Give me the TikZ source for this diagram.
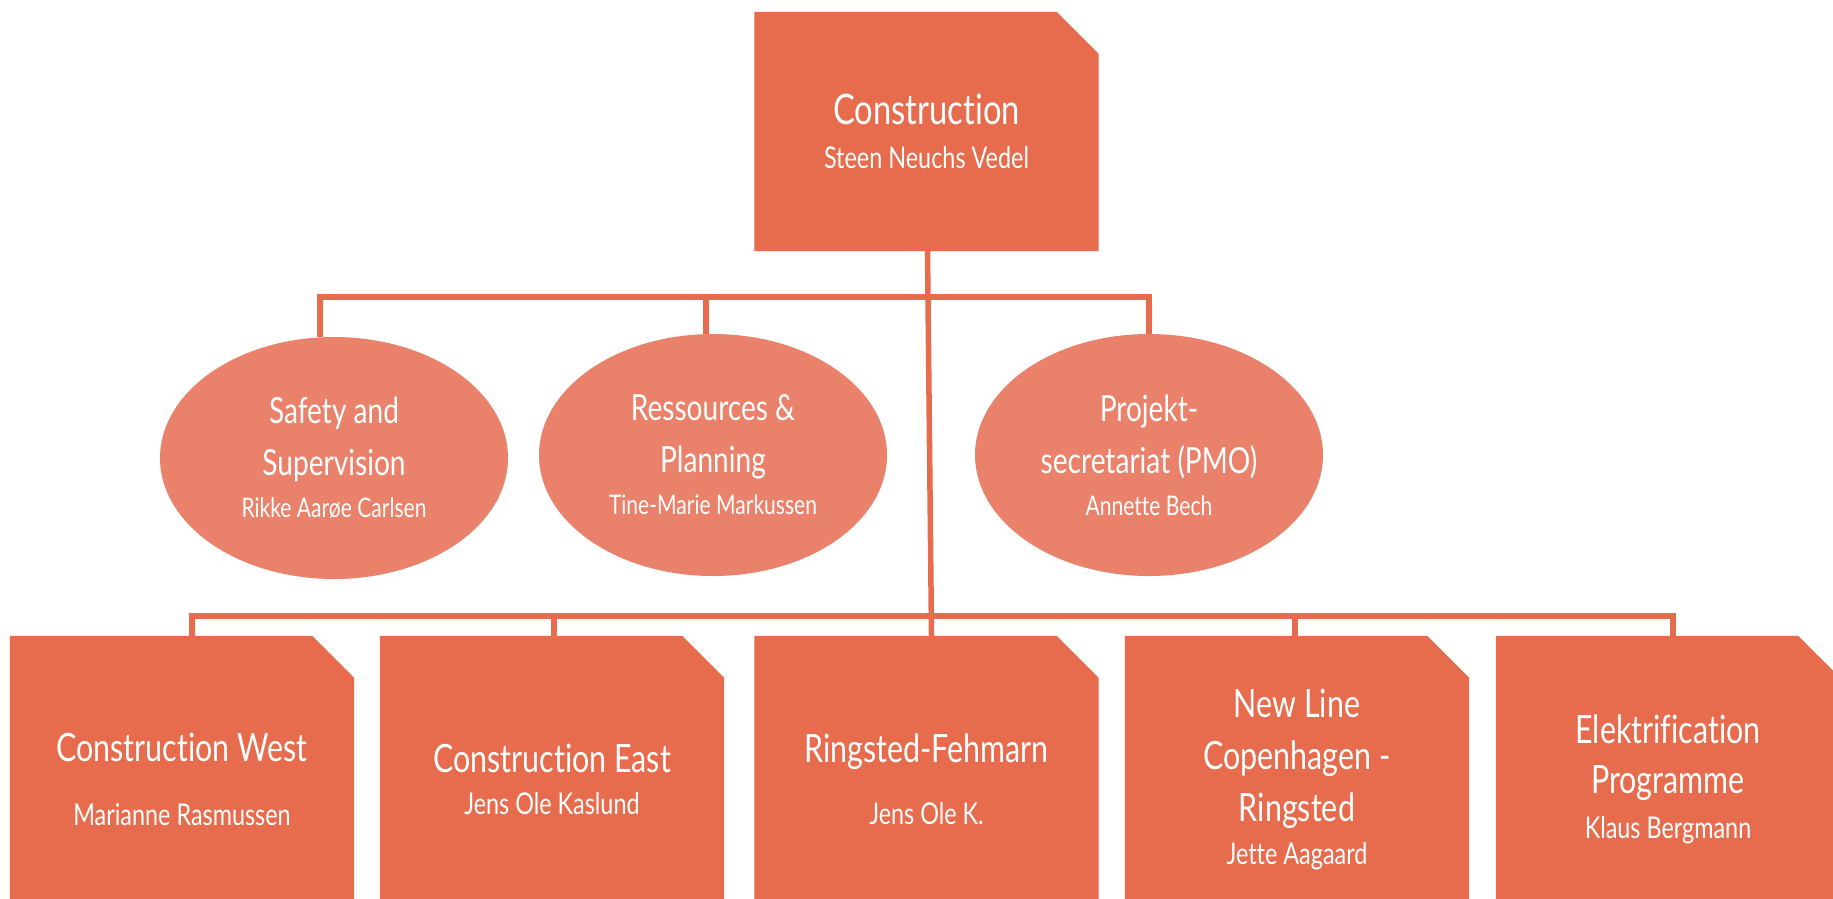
\documentclass[tikz,border=0pt]{standalone}
\usepackage{fontspec}
\setmainfont{Lato}[FakeStretch=0.78, Ligatures=NoCommon]
\usepackage{tikz}
\usetikzlibrary{shapes.geometric, backgrounds}
\definecolor{boxred}{RGB}{230,108,77}
\definecolor{ovalred}{RGB}{234,129,106}
\tikzstyle{link} = [draw=boxred, line width=5.5pt]
% 名字用小号字
\newcommand{\person}[2][30]{{\fontsize{#1}{#1}\selectfont #2}}
% 右上角切角的方块
\newcommand{\cardfill}[1]{%
  \fill[boxred] (#1.south west) -- (#1.north west) -- ([xshift=-42pt]#1.north east)
    -- ([yshift=-42pt]#1.north east) -- (#1.south east) -- cycle;}

\begin{document}
\begin{tikzpicture}[
  x=1pt, y=-1pt,
  card/.style={rectangle, inner sep=0pt, minimum width=344pt, minimum height=286pt,
    text=white, align=center, font=\fontsize{39}{52}\selectfont},
  oval/.style={ellipse, fill=ovalred, inner sep=0pt, minimum width=348pt,
    minimum height=242pt, text=white, align=center, font=\fontsize{36}{52}\selectfont}
]
\clip (0,0) rectangle (1833,898);

% 顶部
\node[card, minimum height=239pt, font=\fontsize{42}{52}\selectfont] (root) at (926.5,131.5)
  {Construction\\[-8pt]\person{Steen Neuchs Vedel}};

% 椭圆
\node[oval] (safety) at (334,458)
  {Safety and\\Supervision\\[-10pt]\person[27]{Rikke Aarøe Carlsen}};
\node[oval] (planning) at (713,455)
  {Ressources \&\\Planning\\[-10pt]\person[27]{Tine-Marie Markussen}};
\node[oval] (pmo) at (1149,455)
  {Projekt-\\secretariat (PMO)\\[-10pt]\person[27]{Annette Bech}};

% 底部方块
\node[card] (west) at (182,779)
  {Construction West\\[12pt]\person{Marianne Rasmussen}};
\node[card] (east) at (552,779)
  {Construction East\\[-10pt]\person{Jens Ole Kaslund}};
\node[card] (ringsted) at (926.5,779)
  {Ringsted-Fehmarn\\[10pt]\person{Jens Ole K.}};
\node[card] (newline) at (1297,779)
  {New Line\\Copenhagen -\\Ringsted\\[-9pt]\person{Jette Aagaard}};
\node[card] (elek) at (1668,779)
  {Elektrification\\[-2pt]Programme\\[-7pt]\person{Klaus Bergmann}};

\begin{scope}[on background layer]
  \foreach \n in {root,west,east,ringsted,newline,elek} {\cardfill{\n}}
\end{scope}

% 连线
\coordinate (topbus) at (927,297);
\coordinate (lowbus) at (930,616);
\draw[link] ([xshift=1pt]root.south) -- ([xshift=5pt]ringsted.north);
\draw[link] ([xshift=-14pt]safety.north) |- (topbus) -| (pmo.north);
\draw[link] ([xshift=-7pt]planning.north) -- ([xshift=-7pt]planning.north |- topbus);
\draw[link] ([xshift=10pt]west.north) |- (lowbus) -| ([xshift=5pt]elek.north);
\draw[link] ([xshift=2pt]east.north) -- ([xshift=2pt]east.north |- lowbus);
\draw[link] ([xshift=-2pt]newline.north) -- ([xshift=-2pt]newline.north |- lowbus);
\end{tikzpicture}
\end{document}
